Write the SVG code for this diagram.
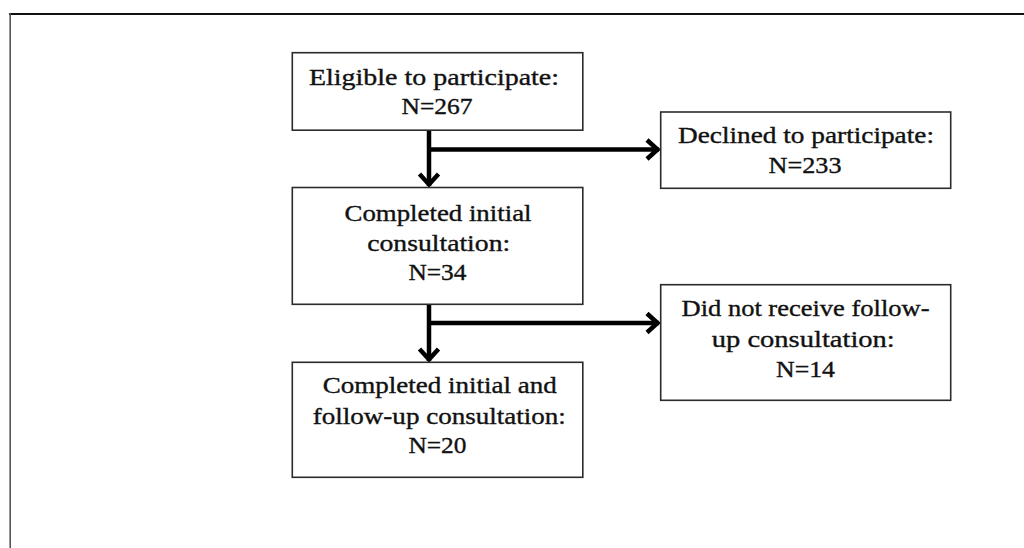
<svg xmlns="http://www.w3.org/2000/svg" width="1024" height="548" viewBox="0 0 1024 548">
  <style>
    .box { fill: #ffffff; stroke: #2b2b2b; stroke-width: 1.6; }
    .lbl { font-family: "Liberation Serif", "Times New Roman", serif; font-size: 22.5px; fill: #111111; stroke: #111111; stroke-width: 0.35; text-anchor: middle; }
    .conn { fill: none; stroke: #000000; stroke-width: 4.5; }
    .head { fill: none; stroke: #000000; stroke-width: 4.5; stroke-linejoin: miter; stroke-linecap: butt; }
  </style>
  <defs>
    <marker id="arrow" markerUnits="userSpaceOnUse" markerWidth="30" markerHeight="30" viewBox="-20 -15 30 30" refX="0" refY="0" orient="auto">
      <path class="head" d="M-12,-9.5 L-1.5,0 L-12,9.5"/>
    </marker>
  </defs>
  <rect x="0" y="0" width="1024" height="548" fill="#ffffff"/>
  <g id="frame">
    <line x1="9" y1="14" x2="1024" y2="14" stroke="#111111" stroke-width="2.2"/>
    <line x1="10.2" y1="13" x2="10.2" y2="548" stroke="#555555" stroke-width="1.6"/>
  </g>
  <g id="connectors">
    <line class="conn" x1="429" y1="130" x2="429" y2="186" marker-end="url(#arrow)"/>
    <line class="conn" x1="427" y1="149.5" x2="659" y2="149.5" marker-end="url(#arrow)"/>
    <line class="conn" x1="429" y1="304" x2="429" y2="361" marker-end="url(#arrow)"/>
    <line class="conn" x1="427" y1="323" x2="659" y2="323" marker-end="url(#arrow)"/>
  </g>
  <g id="eligible">
    <rect class="box" x="292.3" y="52.7" width="290.5" height="77.5"/>
    <text class="lbl" x="434" y="85" textLength="250" lengthAdjust="spacingAndGlyphs">Eligible to participate:</text>
    <text class="lbl" x="437" y="114" textLength="71" lengthAdjust="spacingAndGlyphs">N=267</text>
  </g>
  <g id="declined">
    <rect class="box" x="660.7" y="112" width="290" height="76.3"/>
    <text class="lbl" x="806" y="143" textLength="256" lengthAdjust="spacingAndGlyphs">Declined to participate:</text>
    <text class="lbl" x="805" y="172.5" textLength="73" lengthAdjust="spacingAndGlyphs">N=233</text>
  </g>
  <g id="initial">
    <rect class="box" x="292.3" y="187.5" width="290.5" height="116.8"/>
    <text class="lbl" x="438" y="220.7" textLength="187" lengthAdjust="spacingAndGlyphs">Completed initial</text>
    <text class="lbl" x="438.7" y="250.7" textLength="143" lengthAdjust="spacingAndGlyphs">consultation:</text>
    <text class="lbl" x="437.5" y="280" textLength="58" lengthAdjust="spacingAndGlyphs">N=34</text>
  </g>
  <g id="nofollowup">
    <rect class="box" x="660.7" y="284.7" width="290" height="115.6"/>
    <text class="lbl" x="805.5" y="315.7" textLength="248" lengthAdjust="spacingAndGlyphs">Did not receive follow-</text>
    <text class="lbl" x="803.3" y="347.3" textLength="183" lengthAdjust="spacingAndGlyphs">up consultation:</text>
    <text class="lbl" x="805.5" y="376.7" textLength="59" lengthAdjust="spacingAndGlyphs">N=14</text>
  </g>
  <g id="followup">
    <rect class="box" x="292.3" y="362.3" width="290.5" height="115"/>
    <text class="lbl" x="439.7" y="393.3" textLength="234" lengthAdjust="spacingAndGlyphs">Completed initial and</text>
    <text class="lbl" x="439.3" y="424" textLength="253" lengthAdjust="spacingAndGlyphs">follow-up consultation:</text>
    <text class="lbl" x="437.5" y="453.3" textLength="58" lengthAdjust="spacingAndGlyphs">N=20</text>
  </g>
</svg>
